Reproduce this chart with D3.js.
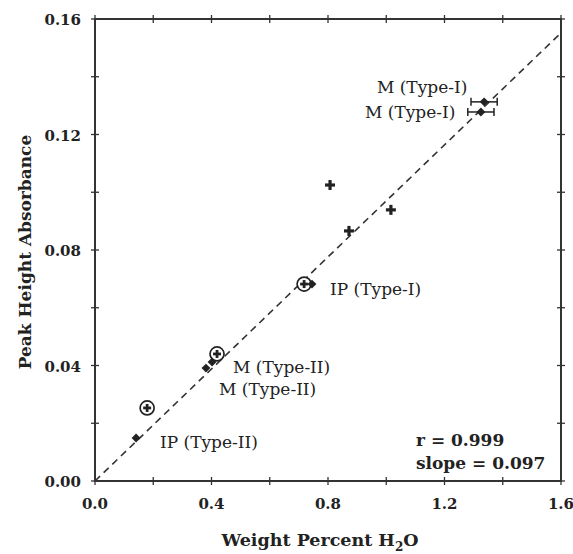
<!DOCTYPE html>
<html>
<head>
<meta charset="utf-8">
<script src="https://cdn.jsdelivr.net/npm/d3@7"></script>
<style>
  html, body { margin: 0; padding: 0; background: #fff; }
  svg { display: block; }
  text { font-family: "DejaVu Serif", "Liberation Serif", serif; fill: #222; }
</style>
</head>
<body>
<svg id="chart" width="573" height="554"></svg>
<script>
// Calibration points: weight percent water vs. peak height absorbance
const plusX = [0.807, 0.872, 1.016];
const plusY = [0.1025, 0.0866, 0.0939];

const circledX = [0.718, 0.419, 0.179];
const circledY = [0.0682, 0.0440, 0.0253];

const diamondX = [1.336, 1.325, 0.745, 0.402, 0.381, 0.141];
const diamondY = [0.1313, 0.1278, 0.0682, 0.0412, 0.0391, 0.0149];
const diamondErr = [0.045, 0.045, 0, 0, 0, 0];

const labelText = ["M (Type-I)", "M (Type-I)", "IP (Type-I)", "M (Type-II)", "M (Type-II)", "IP (Type-II)"];
const labelX = [0.968, 0.927, 0.807, 0.474, 0.426, 0.223];
const labelY = [0.1344, 0.1257, 0.0644, 0.0373, 0.0298, 0.0114];

const fitR = 0.999;
const fitSlope = 0.097;

const xTicks = [0.0, 0.4, 0.8, 1.2, 1.6];
const yTicks = [0.00, 0.04, 0.08, 0.12, 0.16];

const svg = d3.select("#chart");
const plotLeft = 95, plotRight = 561, plotTop = 19, plotBottom = 481;

const x = d3.scaleLinear().domain([0, 1.6]).range([plotLeft, plotRight]);
const y = d3.scaleLinear().domain([0, 0.16]).range([plotBottom, plotTop]);

const axisColor = "#333";

// Frame
svg.append("rect")
  .attr("x", plotLeft).attr("y", plotTop)
  .attr("width", plotRight - plotLeft).attr("height", plotBottom - plotTop)
  .attr("fill", "none").attr("stroke", axisColor).attr("stroke-width", 2);

// Ticks crossing the frame on all four sides
const xMinor = d3.range(0, 1.6001, 0.2);
const yMinor = d3.range(0, 0.16001, 0.02);
const tickG = svg.append("g").attr("stroke", axisColor).attr("stroke-width", 1.3);
xMinor.forEach(v => {
  tickG.append("line").attr("x1", x(v)).attr("x2", x(v)).attr("y1", plotBottom - 4).attr("y2", plotBottom + 4);
  tickG.append("line").attr("x1", x(v)).attr("x2", x(v)).attr("y1", plotTop - 4).attr("y2", plotTop + 4);
});
yMinor.forEach(v => {
  tickG.append("line").attr("y1", y(v)).attr("y2", y(v)).attr("x1", plotLeft - 4).attr("x2", plotLeft + 4);
  tickG.append("line").attr("y1", y(v)).attr("y2", y(v)).attr("x1", plotRight - 4).attr("x2", plotRight + 4);
});

// Tick labels
svg.append("g").selectAll("text").data(xTicks).join("text")
  .attr("x", d => x(d)).attr("y", plotBottom + 28)
  .attr("text-anchor", "middle")
  .attr("font-size", 15).attr("font-weight", "bold")
  .text(d => d.toFixed(1));

svg.append("g").selectAll("text").data(yTicks).join("text")
  .attr("x", plotLeft - 14).attr("y", d => y(d) + 6)
  .attr("text-anchor", "end")
  .attr("font-size", 15).attr("font-weight", "bold")
  .text(d => d.toFixed(2));

// Axis titles
const xt = svg.append("text")
  .attr("x", 320).attr("y", 546)
  .attr("text-anchor", "middle")
  .attr("font-size", 17.5).attr("font-weight", "bold");
xt.append("tspan").text("Weight Percent H");
xt.append("tspan").attr("font-size", 12).attr("dy", 5).text("2");
xt.append("tspan").attr("dy", -5).text("O");

svg.append("text")
  .attr("transform", "translate(31,252) rotate(-90)")
  .attr("text-anchor", "middle")
  .attr("font-size", 17).attr("font-weight", "bold")
  .text("Peak Height Absorbance");

// Fit line through the origin
svg.append("line")
  .attr("x1", x(0)).attr("y1", y(0))
  .attr("x2", x(1.6)).attr("y2", y(fitSlope * 1.6))
  .attr("stroke", "#333").attr("stroke-width", 1.6)
  .attr("stroke-dasharray", "7,5");

// Plus markers
const plusG = svg.append("g").attr("stroke", "#222").attr("stroke-width", 3.2);
plusX.forEach((v, i) => {
  const cx = x(v), cy = y(plusY[i]);
  plusG.append("line").attr("x1", cx - 5).attr("x2", cx + 5).attr("y1", cy).attr("y2", cy);
  plusG.append("line").attr("x1", cx).attr("x2", cx).attr("y1", cy - 5).attr("y2", cy + 5);
});

// Circled plus markers
const circG = svg.append("g").attr("stroke", "#222");
circledX.forEach((v, i) => {
  const cx = x(v), cy = y(circledY[i]);
  circG.append("circle").attr("cx", cx).attr("cy", cy).attr("r", 7)
    .attr("fill", "#fff").attr("stroke-width", 1.7);
  circG.append("line").attr("x1", cx - 4).attr("x2", cx + 4).attr("y1", cy).attr("y2", cy).attr("stroke-width", 2.8);
  circG.append("line").attr("x1", cx).attr("x2", cx).attr("y1", cy - 4).attr("y2", cy + 4).attr("stroke-width", 2.8);
});

// Error bars on diamonds
const errG = svg.append("g").attr("stroke", "#222").attr("stroke-width", 1.5);
diamondX.forEach((v, i) => {
  const e = diamondErr[i];
  if (!e) return;
  const cy = y(diamondY[i]);
  errG.append("line").attr("x1", x(v - e)).attr("x2", x(v + e)).attr("y1", cy).attr("y2", cy);
  errG.append("line").attr("x1", x(v - e)).attr("x2", x(v - e)).attr("y1", cy - 4).attr("y2", cy + 4);
  errG.append("line").attr("x1", x(v + e)).attr("x2", x(v + e)).attr("y1", cy - 4).attr("y2", cy + 4);
});

// Diamond markers
svg.append("g").selectAll("path").data(diamondX).join("path")
  .attr("d", d3.symbol().type(d3.symbolDiamond2).size(50))
  .attr("transform", (d, i) => `translate(${x(d)},${y(diamondY[i])})`)
  .attr("fill", "#222");

// Point labels
svg.append("g").selectAll("text").data(labelText).join("text")
  .attr("x", (d, i) => x(labelX[i])).attr("y", (d, i) => y(labelY[i]))
  .attr("font-size", 17)
  .text(d => d);

// Fit statistics
svg.append("text").attr("x", 416).attr("y", 446)
  .attr("font-size", 17).attr("font-weight", "bold")
  .text(`r = ${fitR.toFixed(3)}`);
svg.append("text").attr("x", 416).attr("y", 469)
  .attr("font-size", 17).attr("font-weight", "bold")
  .text(`slope = ${fitSlope.toFixed(3)}`);
</script>
</body>
</html>
